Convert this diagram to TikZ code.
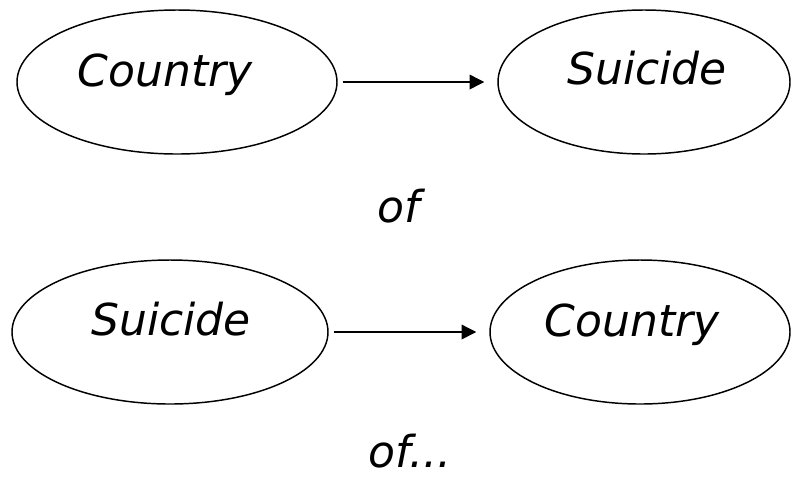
\documentclass[tikz,border=0pt]{standalone}
\usepackage{fontspec}
\setsansfont{DejaVu Sans}
\usetikzlibrary{arrows.meta}
\usetikzlibrary{shapes.geometric}
\usetikzlibrary{positioning}

\tikzset{
  blob/.style={draw, ellipse, line width=1.1pt, inner sep=0pt, minimum height=108pt},
  word/.style={font=\sffamily\itshape\fontsize{33}{40}\selectfont, inner sep=0pt},
  link/.style={line width=1pt, -{Triangle[length=11pt,width=11pt]}, shorten <=3.75pt, shorten >=9.75pt}
}

\begin{document}
\begin{tikzpicture}[x=0.75pt,y=0.75pt,yscale=-1,xscale=1]

\useasboundingbox (0,0) rectangle (791,480);

% Top Row
\node [blob, minimum width=240pt] (cty1) at (177,82)  {};
\node [blob, minimum width=219pt] (sui1) at (644,82)  {};
\draw [link] (cty1) -- (sui1) ;

% Bottom Row
\node [blob, minimum width=237pt] (sui2) at (170,332) {};
\node [blob, minimum width=225pt] (cty2) at (640,332) {};
\draw [link] (sui2) -- (cty2) ;

% Ellipse Labels
\node [word, anchor=base] (cty1txt) at (165,86)  {Country};
\node [word, anchor=base] (sui1txt) at (647,84)  {Suicide};
\node [word, anchor=base] (sui2txt) at (171,335) {Suicide};
\node [word, anchor=base] (cty2txt) at (632,336) {Country};

% In Between
\node [word, anchor=base] (of1) at (399,222) {of};
\node [word, anchor=base] (of2) at (410,467) {of...};

\end{tikzpicture}
\end{document}
